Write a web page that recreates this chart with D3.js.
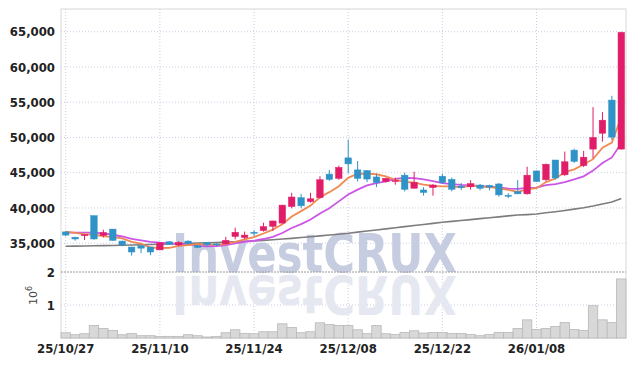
<!DOCTYPE html>
<html>
<head>
<meta charset="utf-8">
<script src="https://cdn.jsdelivr.net/npm/d3@7"></script>
<style>
  body { margin: 0; background: #fff; }
  .tick-label { font-family: "Liberation Sans Narrow", "DejaVu Sans Condensed", "Roboto", sans-serif; font-weight: bold; font-size: 13px; fill: #222; }
</style>
</head>
<body>
<svg id="chart" width="634" height="366"></svg>
<script>
// trading days (yy/mm/dd)
const dates = [
  "25/10/27","25/10/28","25/10/29","25/10/30","25/10/31","25/11/03","25/11/04","25/11/05","25/11/06","25/11/07",
  "25/11/10","25/11/11","25/11/12","25/11/13","25/11/14","25/11/17","25/11/18","25/11/19","25/11/20","25/11/21",
  "25/11/24","25/11/25","25/11/26","25/11/27","25/11/28","25/12/01","25/12/02","25/12/03","25/12/04","25/12/05",
  "25/12/08","25/12/09","25/12/10","25/12/11","25/12/12","25/12/15","25/12/16","25/12/17","25/12/18","25/12/19",
  "25/12/22","25/12/23","25/12/24","25/12/26","25/12/29","25/12/30","26/01/02","26/01/05","26/01/06","26/01/07",
  "26/01/08","26/01/09","26/01/12","26/01/13","26/01/14","26/01/15","26/01/16","26/01/19","26/01/20","26/01/21"
];
const open = [
  36600,35850,36100,38900,36100,37000,35300,34450,34650,34450,
  34050,35200,34750,35300,34650,35100,34900,34900,35950,35800,
  36550,36800,37400,37850,40200,41450,40900,41450,44800,44200,
  47100,45400,45300,44400,43750,43750,44650,42800,42550,42900,
  44500,44050,43100,43000,43250,43200,43400,41800,42300,42000,
  45250,44000,46800,44700,48200,46000,48350,50600,55300,48350
];
const high = [
  36700,35900,36250,38900,36900,37000,35350,34500,34700,34500,
  35150,35300,35300,35400,34700,35150,35000,35900,37200,36650,
  36850,37900,38200,40450,42150,42000,42150,44500,45400,46000,
  49700,46650,45350,44850,44300,44300,45000,45150,42950,43400,
  44850,44300,43550,43950,43400,43300,43550,42100,43950,45850,
  45300,46300,46800,48000,48400,48100,54300,53600,55900,65000
];
const low = [
  36000,35350,35450,35500,35800,35350,34550,33250,33600,33300,
  34000,34800,34550,34900,34300,34500,34500,34850,35550,35600,
  36000,36650,36750,37800,39950,39950,40750,41300,43850,44000,
  44900,43750,43650,42950,43600,43300,42350,42750,41750,41750,
  43400,42350,42550,42600,42500,42500,41600,41400,41950,41900,
  43700,43800,44000,44550,46400,45800,47050,49400,49650,48300
];
const close = [
  36150,35600,36200,35600,36500,35400,34750,33750,34300,33750,
  35050,34850,35100,34950,34400,34800,34800,35400,36550,36150,
  36450,37350,38150,40400,41550,40300,41300,44000,44050,45750,
  46250,44200,44100,43600,44200,43900,42650,43650,42200,43250,
  43600,42650,42900,43450,42800,42950,41850,41750,42000,44650,
  43750,46200,44250,46550,46600,47200,50000,52450,50050,64900
];
// volume, millions of shares
const volume = [
  0.16,0.10,0.13,0.38,0.29,0.23,0.10,0.14,0.07,0.07,
  0.05,0.05,0.05,0.10,0.07,0.03,0.05,0.16,0.25,0.14,
  0.13,0.19,0.19,0.43,0.32,0.16,0.19,0.46,0.41,0.38,
  0.38,0.25,0.13,0.38,0.13,0.11,0.17,0.22,0.15,0.17,
  0.17,0.14,0.14,0.11,0.07,0.11,0.17,0.17,0.29,0.55,
  0.26,0.29,0.35,0.47,0.26,0.23,0.98,0.55,0.47,1.79
];
// moving average lines as drawn
const ma5 = [
  36640,36450,36300,36200,36010,35860,35690,35200,34940,34390,
  34320,34340,34610,34740,34870,34820,34810,34870,35190,35540,
  35870,36380,36930,37700,38780,39550,40340,41510,42240,43080,
  44270,44850,44870,44780,44470,44000,43690,43600,43320,43130,
  43070,43070,42920,43170,43080,42950,42790,42560,42270,42640,
  42800,43670,44170,45080,45470,46160,46920,48560,49260,52920
];
const ma10 = [
  36500,36500,36500,36500,36400,36200,35950,35600,35400,35200,
  35090,35015,34905,34840,34630,34570,34575,34740,34965,35205,
  35345,35595,35900,36445,37160,37710,38360,39220,39970,40930,
  41910,42595,43190,43510,43775,44135,44270,44235,44050,43800,
  43535,43380,43260,43245,43105,43010,42930,42740,42720,42860,
  42875,43230,43365,43675,44055,44480,45295,46365,47170,49195
];
const ma60 = [
  34570,34590,34610,34630,34650,34680,34710,34740,34780,34810,
  34850,34890,34930,34970,35010,35060,35110,35160,35210,35260,
  35320,35400,35490,35590,35690,35800,35920,36040,36160,36280,
  36410,36570,36720,36880,37030,37190,37350,37500,37660,37810,
  37970,38100,38230,38350,38480,38610,38740,38870,38990,39060,
  39150,39320,39470,39650,39830,40020,40270,40560,40830,41340
];
const priceTicks = [35000, 40000, 45000, 50000, 55000, 60000, 65000];
const volTicks = [1, 2];
const dateTicks = ["25/10/27","25/11/10","25/11/24","25/12/08","25/12/22","26/01/08"];

const svg = d3.select("#chart");
const plotL = 61, plotR = 626, plotT = 9, priceB = 272, volB = 338;

const x = d3.scaleBand().domain(dates).range([plotL, plotR]);
const cx = d => x(d) + x.bandwidth() / 2;
const y = d3.scaleLinear().domain([30915, 68220]).range([priceB, plotT]);
const yv = d3.scaleLinear().domain([0, 2]).range([volB, priceB]);

// frame
svg.append("rect").attr("x", plotL).attr("y", plotT).attr("width", plotR - plotL).attr("height", volB - plotT)
  .attr("fill", "none").attr("stroke", "#d8d8d8");

// grid
const grid = svg.append("g");
grid.append("g").selectAll("line").data(priceTicks).join("line")
  .attr("x1", plotL).attr("x2", plotR).attr("y1", d => y(d)).attr("y2", d => y(d))
  .attr("stroke", "#c9cde2").attr("stroke-dasharray", "1,2");
grid.append("g").selectAll("line").data(volTicks.filter(v => v < 2)).join("line")
  .attr("x1", plotL).attr("x2", plotR).attr("y1", d => yv(d)).attr("y2", d => yv(d))
  .attr("stroke", "#c9cde2").attr("stroke-dasharray", "1,2");
grid.append("g").selectAll("line").data(dateTicks).join("line")
  .attr("x1", d => cx(d)).attr("x2", d => cx(d)).attr("y1", plotT).attr("y2", volB)
  .attr("stroke", "#c9cde2").attr("stroke-dasharray", "1,2");

// watermark
const wm = svg.append("g").attr("font-family", "DejaVu Sans, sans-serif").attr("font-weight", "bold").attr("font-size", 54);
wm.append("text").attr("x", 172).attr("y", priceB).attr("textLength", 285).attr("lengthAdjust", "spacingAndGlyphs")
  .attr("fill", "#c7cde1").text("InvestCRUX");
wm.append("text").attr("transform", `translate(0,${2 * priceB + 4}) scale(1,-1)`)
  .attr("x", 172).attr("y", priceB).attr("textLength", 285).attr("lengthAdjust", "spacingAndGlyphs")
  .attr("fill", "#e6e8f1").text("InvestCRUX");

// panel separator
svg.append("line").attr("x1", plotL).attr("x2", plotR).attr("y1", priceB).attr("y2", priceB)
  .attr("stroke", "#9a9a9a").attr("stroke-dasharray", "2,1");

// volume bars
svg.append("g").selectAll("rect").data(dates).join("rect")
  .attr("x", d => x(d)).attr("width", x.bandwidth())
  .attr("y", (d, i) => yv(volume[i])).attr("height", (d, i) => yv(0) - yv(volume[i]))
  .attr("fill", "#d8d8d8").attr("stroke", "#b9b9b9").attr("stroke-width", 0.8);

// moving averages
const line = arr => d3.line().x((d, i) => cx(dates[i])).y(d => y(d))(arr);
svg.append("path").attr("d", line(ma60)).attr("fill", "none").attr("stroke", "#7d7d7d").attr("stroke-width", 1.6);
svg.append("path").attr("d", line(ma10)).attr("fill", "none").attr("stroke", "#cc55e6").attr("stroke-width", 1.8);
svg.append("path").attr("d", line(ma5)).attr("fill", "none").attr("stroke", "#ef8a52").attr("stroke-width", 1.8);

// candles
const up = "#e11d69", down = "#2f93c7";
const bodyW = 6.5;
const candles = svg.append("g").selectAll("g").data(dates).join("g")
  .attr("fill", (d, i) => close[i] >= open[i] ? up : down)
  .attr("stroke", (d, i) => close[i] >= open[i] ? up : down);
candles.append("line")
  .attr("x1", d => cx(d)).attr("x2", d => cx(d))
  .attr("y1", (d, i) => y(high[i])).attr("y2", (d, i) => y(low[i])).attr("stroke-width", 1);
candles.append("rect")
  .attr("x", d => cx(d) - bodyW / 2).attr("width", bodyW)
  .attr("y", (d, i) => y(Math.max(open[i], close[i])))
  .attr("height", (d, i) => Math.max(1, Math.abs(y(open[i]) - y(close[i]))))
  .attr("stroke-width", 0.5);

// axis labels
svg.append("g").selectAll("text").data(priceTicks).join("text")
  .attr("class", "tick-label").attr("x", 55).attr("y", d => y(d)).attr("dy", "0.35em")
  .attr("text-anchor", "end").text(d3.format(","));
svg.append("g").selectAll("text").data(volTicks).join("text")
  .attr("class", "tick-label").attr("x", 55).attr("y", d => yv(d)).attr("dy", "0.35em")
  .attr("text-anchor", "end").text(d => d);
svg.append("g").selectAll("text").data(dateTicks).join("text")
  .attr("class", "tick-label").attr("x", d => cx(d)).attr("y", 353)
  .attr("text-anchor", "middle").text(d => d);

// 10^6 unit label
const unit = svg.append("text").attr("transform", "translate(37,305) rotate(-90)")
  .attr("font-family", "DejaVu Sans, sans-serif").attr("font-size", 11).attr("fill", "#444");
unit.append("tspan").text("10");
unit.append("tspan").attr("dy", -5).attr("font-size", 8).text("6");
</script>
</body>
</html>
